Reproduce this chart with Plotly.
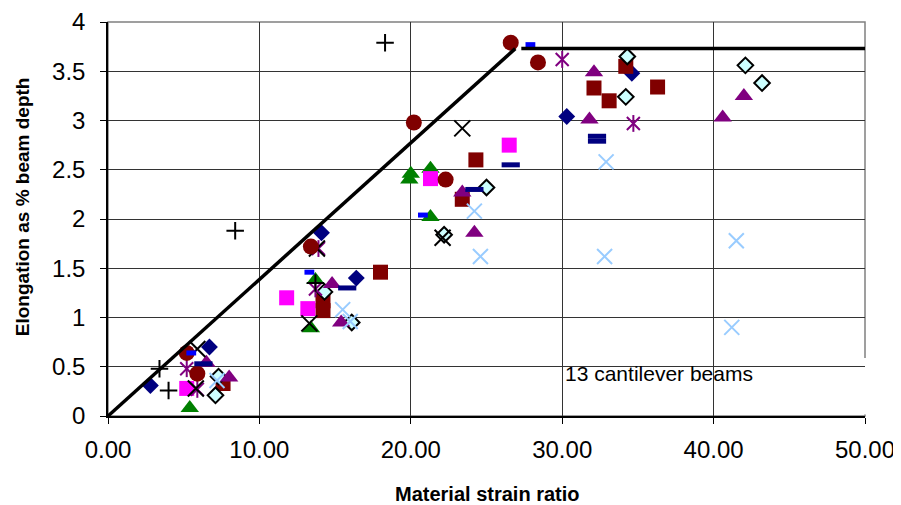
import plotly.graph_objects as go

# ---- data ----
navy_diamond_x = [2.8, 6.7, 14.1, 16.4, 30.3, 34.6]
navy_diamond_y = [0.31, 0.70, 1.86, 1.40, 3.04, 3.48]

red_square_x = [7.6, 14.2, 14.2, 18.0, 23.4, 24.3, 32.1, 33.1, 34.2, 36.3]
red_square_y = [0.33, 1.07, 1.17, 1.46, 2.20, 2.60, 3.33, 3.20, 3.55, 3.34]

green_tri_x = [5.4, 13.4, 13.7, 19.9, 20.0, 21.3, 21.3]
green_tri_y = [0.08, 0.89, 1.38, 2.40, 2.46, 2.51, 2.02]

cyan_diamond_x = [7.1, 7.3, 14.3, 16.1, 22.2, 25.0, 34.2, 34.3, 42.1, 43.2]
cyan_diamond_y = [0.21, 0.40, 1.26, 0.95, 1.84, 2.32, 3.24, 3.65, 3.56, 3.38]

magenta_sq_x = [5.2, 11.8, 13.2, 21.3, 26.5]
magenta_sq_y = [0.28, 1.20, 1.09, 2.41, 2.75]

red_circle_x = [5.2, 5.9, 13.4, 20.2, 22.3, 26.6, 28.4]
red_circle_y = [0.64, 0.43, 1.72, 2.98, 2.40, 3.79, 3.59]

purple_tri_x = [6.5, 8.0, 14.8, 15.4, 23.4, 24.2, 31.8, 32.1, 40.6, 42.0]
purple_tri_y = [0.54, 0.39, 1.34, 0.95, 2.27, 1.86, 3.01, 3.49, 3.03, 3.25]

purple_star_x = [5.2, 5.9, 13.7, 13.9, 30.0, 34.7]
purple_star_y = [0.48, 0.27, 1.29, 1.70, 3.62, 2.97]

ltblue_x_x = [7.2, 15.5, 16.0, 24.2, 24.6, 32.9, 32.8, 41.5, 41.2]
ltblue_x_y = [0.36, 1.08, 0.96, 2.08, 1.62, 2.58, 1.62, 1.78, 0.90]

black_x_x = [5.8, 5.9, 13.3, 13.8, 22.1, 23.4]
black_x_y = [0.28, 0.68, 0.94, 1.70, 1.81, 2.92]

black_plus_x = [3.4, 4.0, 8.4, 13.7, 18.3]
black_plus_y = [0.48, 0.26, 1.88, 1.35, 3.79]

navy_dash_x = [6.3, 15.8, 24.2, 26.6, 32.3, 32.3]
navy_dash_y = [0.53, 1.30, 2.30, 2.55, 2.84, 2.79]

blue_dash_x = [5.5, 13.3, 20.8, 27.9]
blue_dash_y = [0.64, 1.46, 2.04, 3.77]

limit_diag_x = [0, 26.9]
limit_diag_y = [0, 3.73]
limit_flat_x = [27.3, 50]
limit_flat_y = [3.73, 3.73]

x_ticks = [0, 10, 20, 30, 40, 50]
y_ticks = [0, 0.5, 1, 1.5, 2, 2.5, 3, 3.5, 4]

FONT = "Liberation Sans, Arial, sans-serif"

fig = go.Figure()


def add(xs, ys, symbol, size, color, line_color=None, line_width=0):
    fig.add_trace(go.Scatter(
        x=xs, y=ys, mode="markers", showlegend=False,
        marker=dict(symbol=symbol, size=size, color=color,
                    line=dict(color=line_color or color, width=line_width)),
    ))


add(navy_diamond_x, navy_diamond_y, "diamond", 13, "#000080")
add(red_square_x, red_square_y, "square", 15, "#800000")
add(green_tri_x, green_tri_y, "triangle-up", 16, "#008000")
add(cyan_diamond_x, cyan_diamond_y, "diamond", 12, "#CCFFFF", "black", 2)
add(magenta_sq_x, magenta_sq_y, "square", 15, "#FF00FF")
add(purple_tri_x, purple_tri_y, "triangle-up", 16, "#800080")
add(purple_star_x, purple_star_y, "x-thin-open", 13, "#800080", "#800080", 2)
add(purple_star_x, purple_star_y, "line-ns-open", 12, "#800080", "#800080", 2)
add(ltblue_x_x, ltblue_x_y, "x-thin-open", 15, "#99CCFF", "#99CCFF", 2)
add(black_x_x, black_x_y, "x-thin-open", 16, "black", "black", 2)
add(black_plus_x, black_plus_y, "cross-thin-open", 12.5, "black", "black", 2)
add(red_circle_x, red_circle_y, "circle", 16, "#800000")
add(navy_dash_x, navy_dash_y, "line-ew-open", 13, "#000080", "#000080", 5)
add(blue_dash_x, blue_dash_y, "line-ew-open", 7, "#0000FF", "#0000FF", 5)

for lx, ly in ((limit_diag_x, limit_diag_y), (limit_flat_x, limit_flat_y)):
    fig.add_trace(go.Scatter(x=lx, y=ly, mode="lines", showlegend=False,
                             line=dict(color="black", width=3.5)))

fig.update_layout(
    width=901, height=505,
    margin=dict(l=100, r=44, t=14, b=97),
    plot_bgcolor="white", paper_bgcolor="white",
    font=dict(family=FONT, color="black"),
    xaxis=dict(range=[0, 50], tickvals=x_ticks, tickformat=".2f",
               automargin=False,
               showgrid=True, gridcolor="#333333", gridwidth=1,
               showline=True, linecolor="black", linewidth=2,
               ticks="outside", ticklen=6, tickcolor="black",
               ticklabelstandoff=5,
               tickfont=dict(size=24, family=FONT), zeroline=False),
    yaxis=dict(range=[0, 4], tickvals=y_ticks,
               automargin=False,
               showgrid=True, gridcolor="#333333", gridwidth=1,
               showline=True, linecolor="black", linewidth=1.5,
               ticks="outside", ticklen=6, tickcolor="black",
               ticklabelstandoff=10,
               tickfont=dict(size=24, family=FONT), zeroline=False),
    shapes=[
        dict(type="rect", xref="paper", yref="paper", x0=0, x1=1, y0=0, y1=1,
             line=dict(color="#808080", width=1.5), fillcolor="rgba(0,0,0,0)",
             layer="between"),
        dict(type="rect", xref="paper", yref="y", x0=0.438, x1=1.005, y0=0.015, y1=0.59,
             line=dict(width=0), fillcolor="white", layer="between"),
    ],
    annotations=[
        dict(text="<b>Elongation as % beam depth</b>", xref="paper", yref="paper",
             x=-0.1136, y=0.53, xanchor="center", yanchor="middle", textangle=-90,
             showarrow=False, font=dict(size=19, family=FONT)),
        dict(text="<b>Material strain ratio</b>", xref="paper", yref="paper",
             x=0.5007, y=-0.198, xanchor="center", yanchor="middle",
             showarrow=False, font=dict(size=20, family=FONT)),
        dict(text="13 cantilever beams", xref="x", yref="y", x=36.4, y=0.43,
             xanchor="center", yanchor="middle", showarrow=False,
             font=dict(size=21, family=FONT)),
    ],
)

fig.write_html("out.html")
